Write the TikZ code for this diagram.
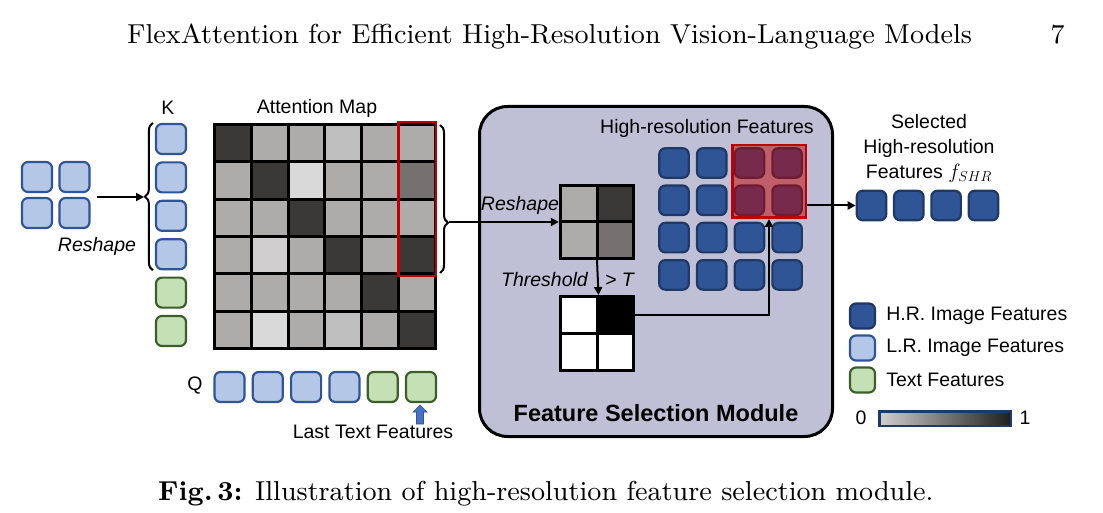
\documentclass[tikz,border=0pt]{standalone}
\usepackage{fontspec}
\newfontfamily\arial{Liberation Sans}
\newfontfamily\ninerm{lmroman9-regular.otf}[BoldFont=lmroman9-bold.otf]
\usetikzlibrary{arrows.meta,decorations.pathreplacing}
\definecolor{lrfill}{HTML}{B4C7E7}
\definecolor{lrdraw}{HTML}{2F5597}
\definecolor{hrfill}{HTML}{2F5597}
\definecolor{hrdraw}{HTML}{1F3864}
\definecolor{txfill}{HTML}{C5E0B4}
\definecolor{txdraw}{HTML}{3B5E2B}
\definecolor{modfill}{HTML}{BFBFD6}
\definecolor{selred}{HTML}{C00000}
\definecolor{cD}{HTML}{3B3838}
\definecolor{cG}{HTML}{AEABAB}
\definecolor{cL}{HTML}{BFBFBF}
\definecolor{cV}{HTML}{D9D9D9}
\definecolor{cW}{HTML}{D0CECE}
\definecolor{cM}{HTML}{767171}
\definecolor{upblue}{HTML}{4472C4}
\begin{document}
\begin{tikzpicture}[x=1pt,y=-1pt,
  feat/.style={rounded corners=6pt, line width=2.2pt, minimum size=30pt, inner sep=0pt},
  lr/.style={feat, fill=lrfill, draw=lrdraw},
  hr/.style={feat, fill=hrfill, draw=hrdraw, minimum size=29.5pt},
  tx/.style={feat, fill=txfill, draw=txdraw},
  cell/.style={draw=black, line width=3pt, inner sep=0pt},
  lbl/.style={font=\arial\fontsize{19.5}{25}\selectfont, inner sep=0pt},
  ilbl/.style={font=\arial\itshape\fontsize{19.5}{25}\selectfont, inner sep=0pt},
  arr/.style={line width=2pt, -{Triangle[length=8pt,width=8pt]}},
  brc/.style={decorate, decoration={brace, amplitude=8pt}, line width=2pt},
  serif/.style={font=\ninerm\fontsize{27.4}{31}\selectfont, inner sep=0pt}
  ]
\useasboundingbox (0,0) rectangle (1103,513);

% header and caption
\node[serif, anchor=base west] (hdr) at (127,43.5) {FlexAttention for Efficient High-Resolution Vision-Language Models};
\node[serif, anchor=base east] (pg) at (1065,43.5) {7};
\node[serif, anchor=base west] (cap) at (158,500) {\textbf{Fig.\,3:} Illustration of high-resolution feature selection module.};

% module background
\node[draw=black, line width=3pt, fill=modfill, rounded corners=28pt,
      minimum width=353pt, minimum height=330pt, inner sep=0pt] (fsm) at (656,271.5) {};

% left 2x2 L.R. features
\node[lr] (l11) at (37,177) {};
\node[lr] (l12) at (74.5,177) {};
\node[lr] (l21) at (37,213) {};
\node[lr] (l22) at (74.5,213) {};
\node[ilbl] (rs1) at (97,246) {Reshape};

% K column
\node[lbl] (klbl) at (168,108) {K};
\foreach \i/\y in {1/139,2/177.4,3/215.8,4/254.2}
  \node[lr] (k\i) at (171,\y) {};
\node[tx] (k5) at (171,292.6) {};
\node[tx] (k6) at (171,331) {};
\draw[brc] ([xshift=-2pt]k4.south west) -- ([xshift=-2pt]k1.north west);
\coordinate (lst) at (97,197);
\coordinate (lbt) at (144,197);
\draw[arr] (lst) -- (lbt);

% attention map
\node[lbl] (amlbl) at (317,108) {Attention Map};
\foreach \r/\row in {1/{cD,cG,cG,cL,cG,cG},2/{cG,cD,cV,cG,cG,cM},3/{cG,cG,cD,cG,cG,cG},
                     4/{cG,cW,cG,cD,cG,cD},5/{cG,cG,cG,cG,cD,cG},6/{cG,cV,cG,cL,cG,cD}}{
  \foreach \c [count=\ci] in \row {
    \node[cell, fill=\c, minimum width=36.83pt, minimum height=37.33pt]
      (a\r\ci) at ({214.5+36.83*(\ci-0.5)},{124.5+37.33*(\r-0.5)}) {};
  }
}
\node[draw=selred, line width=2.5pt, minimum width=37.5pt, minimum height=153.5pt, inner sep=0pt] (rcol) at (417,199) {};
\draw[brc, decoration={aspect=0.66}] (440,125) -- (440,273);
\coordinate (rbt) at (449,222);

% Q row
\node[lbl] (qlbl) at (195,386) {Q};
\foreach \i in {1,...,4}
  \node[lr] (q\i) at ({229.5+38.3*(\i-1)},387) {};
\node[tx] (q5) at ({229.5+38.3*4},387) {};
\node[tx] (q6) at ({229.5+38.3*5},387) {};
\draw[fill=upblue, draw=lrdraw, line width=0.6pt]
  (420,405) -- (427,412) -- (423.5,412) -- (423.5,424) -- (416.5,424) -- (416.5,412) -- (413,412) -- cycle;
\node[lbl] (ltf) at (373,432) {Last Text Features};

% reshaped 2x2 grid
\node[minimum size=76pt, inner sep=0pt] (gg) at (597,222) {};
\node[cell, fill=cG, minimum size=36.5pt] (g11) at (578.75,203.75) {};
\node[cell, fill=cD, minimum size=36.5pt] (g12) at (615.25,203.75) {};
\node[cell, fill=cG, minimum size=36.5pt] (g21) at (578.75,240.25) {};
\node[cell, fill=cM, minimum size=36.5pt] (g22) at (615.25,240.25) {};
\draw[arr] (rbt) -- (gg.west);
\node[ilbl] (rs2) at (520,205) {Reshape};

% threshold
\node[minimum size=76pt, inner sep=0pt] (bg) at (597,333.5) {};
\node[cell, fill=white, minimum width=36.5pt, minimum height=37pt] (b11) at (578.75,315) {};
\node[cell, fill=black, minimum width=36.5pt, minimum height=37pt] (b12) at (615.25,315) {};
\node[cell, fill=white, minimum width=36.5pt, minimum height=37pt] (b21) at (578.75,352) {};
\node[cell, fill=white, minimum width=36.5pt, minimum height=37pt] (b22) at (615.25,352) {};
\draw[arr] (gg.south) -- (b11.north east);
\node[ilbl, anchor=east] (thr) at (588,280) {Threshold};
\node[ilbl, anchor=west] (gtT) at (605,280) {> T};

% high-resolution features
\node[lbl] (hrlbl) at (707,128) {High-resolution Features};
\foreach \r/\y in {1/163,2/200.3,3/237.6,4/274.9}
  \foreach \c/\x in {1/674,2/711.7,3/749.4,4/787.1}
    \node[hr] (h\r\c) at (\x,\y) {};
\node[draw=selred, fill=selred, fill opacity=0.5, line width=2.5pt,
      minimum width=73.5pt, minimum height=72.5pt, inner sep=0pt] (hrsel) at (769,181.5) {};
\draw[arr] (b12.east) -| (hrsel.south);

\node[font=\arial\bfseries\fontsize{23.5}{28}\selectfont, inner sep=0pt] (fsmlbl) at (656,413) {Feature Selection Module};

% selected output
\node[lbl, align=center] (seltxt) at (929,148) {Selected\\High-resolution\\Features $f_{SHR}$};
\foreach \i in {1,...,4}
  \node[hr] (o\i) at ({871.5+37.3*(\i-1)},205.5) {};
\draw[arr] (hrsel.east |- o1.west) -- (o1.west);

% legend
\node[hr, minimum size=25pt] (lg1) at (862.5,316) {};
\node[lr, minimum size=25pt] (lg2) at (862.5,348) {};
\node[tx, minimum size=25pt] (lg3) at (862.5,380) {};
\node[lbl, anchor=west] (lgt1) at ([xshift=10pt]lg1.east) {H.R. Image Features};
\node[lbl, anchor=west] (lgt2) at ([xshift=10pt]lg2.east) {L.R. Image Features};
\node[lbl, anchor=west] (lgt3) at ([xshift=10pt]lg3.east) {Text Features};
\node[draw=hrdraw, line width=2.5pt, left color=cW, right color=black!88,
      minimum width=131.5pt, minimum height=14.5pt, inner sep=0pt] (cbar) at (945,418.5) {};
\node[lbl] (c0) at (861,418) {0};
\node[lbl] (c1) at (1025,418) {1};
\end{tikzpicture}
\end{document}
